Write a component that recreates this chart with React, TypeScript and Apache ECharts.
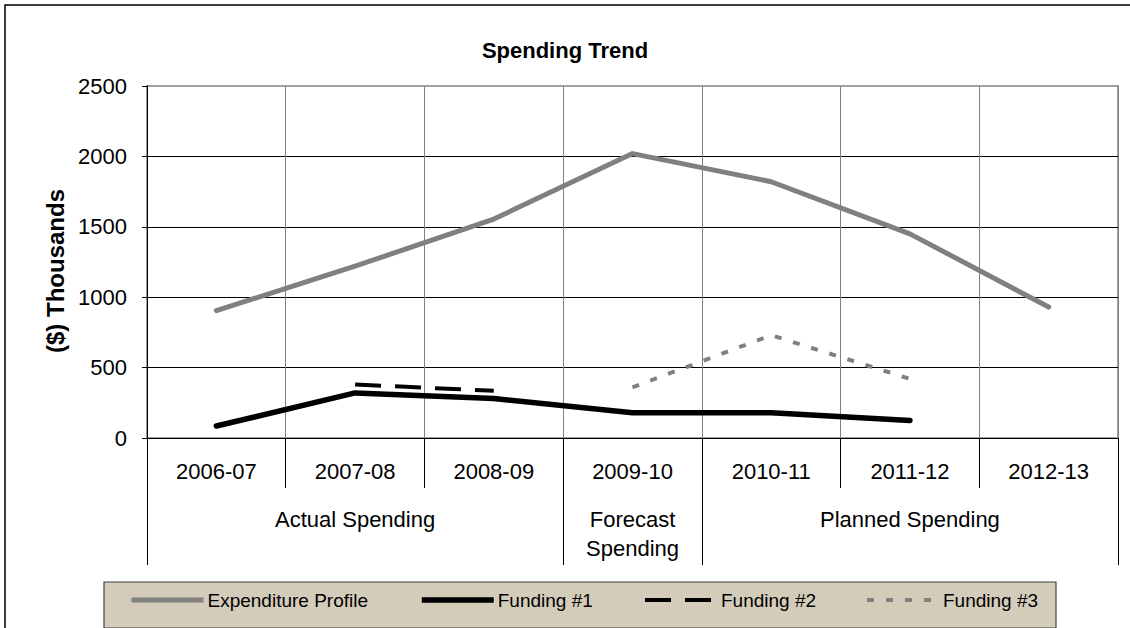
import React, { useEffect, useRef } from "react";
import * as echarts from "echarts";

const categories = ["2006-07", "2007-08", "2008-09", "2009-10", "2010-11", "2011-12", "2012-13"];
const groupLabels = ["", "Actual Spending", "", "Forecast\nSpending", "", "Planned Spending", ""];
const groupBounds = [0, 3, 4, 7];
const expenditure = [905, 1220, 1555, 2020, 1820, 1450, 930];
const funding1 = [85, 320, 280, 180, 180, 125, null];
const funding2 = [null, 380, 335, null, null, null, null];
const funding3 = [null, null, null, 360, 730, 420, null];
const yMin = 0;
const yMax = 2500;
const yInterval = 500;
const seriesNames = ["Expenditure Profile", "Funding #1", "Funding #2", "Funding #3"];

const FONT = "Liberation Sans, Arial, sans-serif";

const lineStyles: any[] = [
  { color: "#808080", width: 5, cap: "round", join: "round" },
  { color: "#000", width: 5.5, cap: "round", join: "round" },
  { color: "#000", width: 4, type: [26, 14] },
  { color: "#808080", width: 4, type: [7, 12] },
];

export default function App() {
  const ref = useRef<HTMLDivElement>(null);
  useEffect(() => {
    if (!ref.current) return;
    const chart = echarts.init(ref.current, undefined, { renderer: "svg" });
    const legendLefts = [129, 419, 643, 865];
    chart.setOption({
      animation: false,
      backgroundColor: "#ffffff",
      title: {
        text: "Spending Trend",
        left: "center",
        top: 34,
        textStyle: { fontFamily: FONT, fontSize: 22, fontWeight: "bold", color: "#000" },
      },
      grid: {
        left: 147,
        right: 12,
        top: 86,
        bottom: 190,
        show: true,
        borderColor: "#a0a0a0",
        borderWidth: 2,
        backgroundColor: "transparent",
      },
      legend: seriesNames.map((n, i) => ({
        data: [n],
        left: legendLefts[i],
        top: 590,
        padding: 0,
        itemWidth: 72,
        itemHeight: 14,
        itemGap: 0,
        itemStyle: { opacity: 0, borderWidth: 0 },
        lineStyle: { ...lineStyles[i], cap: "butt" },
        textStyle: { fontFamily: FONT, fontSize: 19, color: "#000", lineHeight: 20, padding: [0, 0, 0, -1] },
        selectedMode: false,
      })),
      xAxis: [
        {
          type: "category",
          data: categories,
          boundaryGap: true,
          axisLine: { show: true, lineStyle: { color: "#000", width: 1 } },
          axisTick: { show: true, length: 50, interval: 0, lineStyle: { color: "#000", width: 1 } },
          axisLabel: { interval: 0, margin: 22, fontFamily: FONT, fontSize: 22, color: "#000", lineHeight: 22 },
          splitLine: { show: true, interval: 0, lineStyle: { color: "#808080", width: 1 } },
        },
        {
          type: "category",
          data: groupLabels,
          position: "bottom",
          boundaryGap: true,
          axisLine: { show: false },
          axisTick: { show: false },
          splitLine: { show: false },
          axisLabel: { interval: 0, margin: 67, fontFamily: FONT, fontSize: 22, color: "#000", lineHeight: 29 },
        },
      ],
      yAxis: {
        type: "value",
        min: yMin,
        max: yMax,
        interval: yInterval,
        name: "($) Thousands",
        nameLocation: "middle",
        nameRotate: 90,
        nameGap: 56,
        nameTextStyle: { fontFamily: FONT, fontSize: 24, fontWeight: "bold", color: "#000", padding: [0, 18, 0, 0] },
        axisLine: { show: true, lineStyle: { color: "#000", width: 1 } },
        axisTick: { show: true, length: 5, lineStyle: { color: "#000" } },
        axisLabel: {
          margin: 20,
          fontFamily: FONT,
          fontSize: 22,
          color: "#000",
          formatter: (v: number) => String(v),
        },
        splitLine: {
          show: true,
          lineStyle: { color: ["#000", "#000", "#000", "#000", "#000", "#a0a0a0"], width: 1 },
        },
      },
      series: [
        { name: seriesNames[0], type: "line", data: expenditure, symbol: "none", color: "#808080", lineStyle: lineStyles[0], z: 3 },
        { name: seriesNames[1], type: "line", data: funding1, symbol: "none", color: "#000", lineStyle: lineStyles[1], z: 4 },
        { name: seriesNames[2], type: "line", data: funding2, symbol: "none", color: "#000", lineStyle: lineStyles[2], z: 4 },
        { name: seriesNames[3], type: "line", data: funding3, symbol: "none", color: "#808080", lineStyle: lineStyles[3], z: 4 },
      ],
    });

    const c0 = chart.convertToPixel({ xAxisIndex: 0 }, 0) as number;
    const c1 = chart.convertToPixel({ xAxisIndex: 0 }, 1) as number;
    const w = c1 - c0;
    const yBase = chart.convertToPixel({ yAxisIndex: 0 }, 0) as number;
    const sepLines = groupBounds.map((b) => {
      const x = Math.round(c0 - w / 2 + b * w) + 0.5;
      return {
        type: "line",
        shape: { x1: x, y1: yBase, x2: x, y2: yBase + 127 },
        style: { stroke: "#000", lineWidth: 1 },
        z: 10,
      };
    });
    chart.setOption({
      graphic: [
        {
          type: "rect",
          shape: { x: 5, y: 5, width: 1200, height: 700 },
          style: { fill: "none", stroke: "#000", lineWidth: 1.5 },
          z: 0,
          silent: true,
        },
        {
          type: "rect",
          shape: { x: 104, y: 582, width: 952, height: 46 },
          style: { fill: "#d4ccbb", stroke: "#404040", lineWidth: 1.2 },
          z: 0,
          silent: true,
        },
        ...sepLines,
      ],
    });
    return () => chart.dispose();
  }, []);
  return (
    <div
      ref={ref}
      style={{ position: "fixed", left: 0, top: 0, width: 1130, height: 628, background: "#fff" }}
    />
  );
}
